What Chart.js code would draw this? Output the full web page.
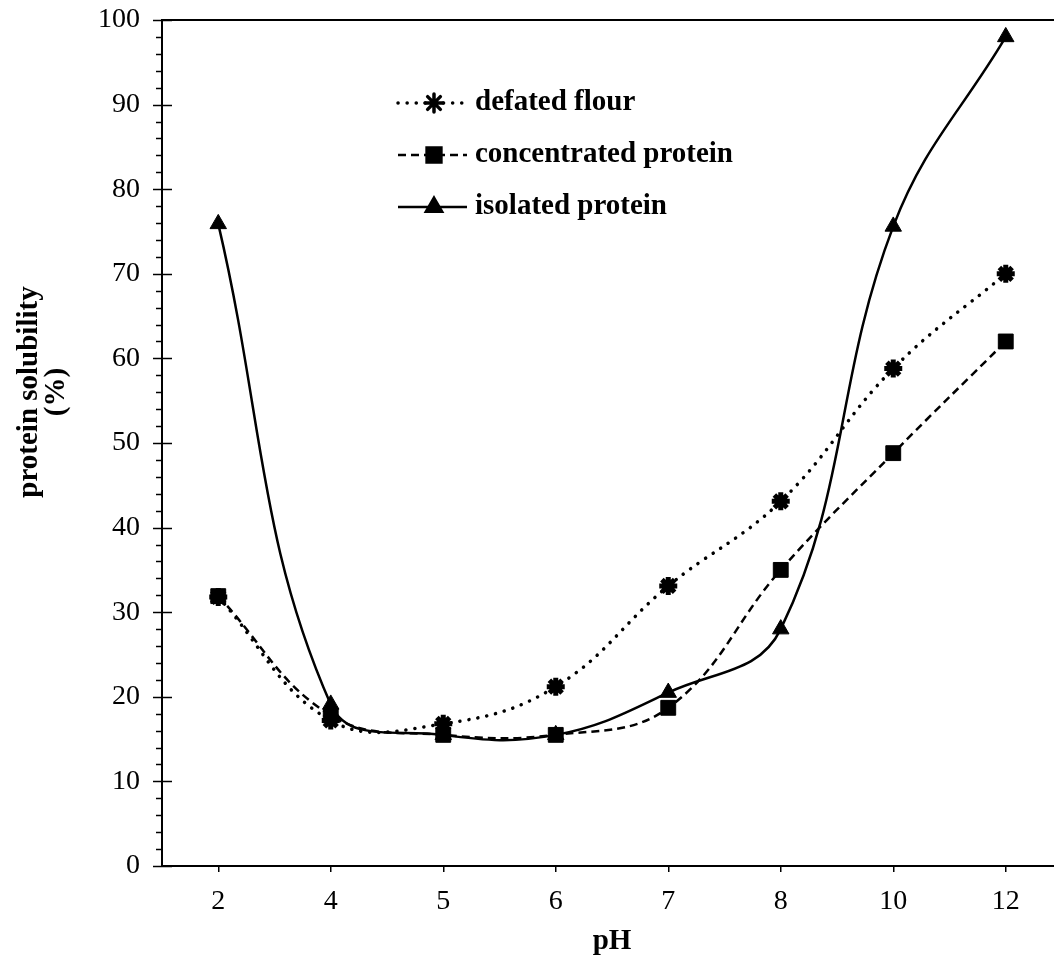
<!DOCTYPE html>
<html>
<head>
<meta charset="utf-8">
<script src="https://cdn.jsdelivr.net/npm/chart.js@4/dist/chart.umd.min.js"></script>
<style>
  html, body { margin: 0; padding: 0; background: #fff; overflow: hidden; }
  canvas { display: block; }
</style>
</head>
<body>
<canvas id="grafica" width="1076" height="959"></canvas>
<script>
// valores
const phLabels = ["2", "4", "5", "6", "7", "8", "10", "12"];
const defatedFlour = [31.8, 17.2, 16.8, 21.2, 33.1, 43.1, 58.8, 70.0];
const concentratedProtein = [31.9, 17.8, 15.5, 15.5, 18.7, 35.0, 48.8, 62.0];
const isolatedProtein = [75.9, 19.1, 15.5, 15.5, 20.5, 28.0, 75.6, 98.0];
const yMin = 0;
const yMax = 100;
const yTitulo = ["protein solubility", "(%)"];

const fuente = "'Liberation Serif', 'Times New Roman', serif";

// marcas del eje y (mayores cruzan el eje, menores solo por fuera)
const ticksPlugin = {
  id: "marcas",
  afterDraw(chart) {
    const ctx = chart.ctx;
    const area = chart.chartArea;
    const y = chart.scales.y;
    ctx.save();
    ctx.strokeStyle = "#000";
    ctx.lineWidth = 1.5;
    for (let v = yMin; v <= yMax; v += 2) {
      const py = Math.round(y.getPixelForValue(v)) + 0.5;
      const major = v % 10 === 0;
      ctx.beginPath();
      ctx.moveTo(area.left - (major ? 9 : 6), py);
      ctx.lineTo(area.left + (major ? 10 : 0), py);
      ctx.stroke();
    }
    // linea superior del marco
    ctx.lineWidth = 2;
    ctx.beginPath();
    ctx.moveTo(area.left, area.top);
    ctx.lineTo(area.right, area.top);
    ctx.stroke();

    // titulo del eje y (dos lineas, girado)
    ctx.fillStyle = "#000";
    ctx.font = "bold 29px " + fuente;
    ctx.textAlign = "center";
    ctx.textBaseline = "middle";
    ctx.translate(30, 392);
    ctx.rotate(-Math.PI / 2);
    yTitulo.forEach((t, i) => ctx.fillText(t, 0, i * 27));
    ctx.restore();
  },
};

// leyenda dentro del area del grafico
const leyendaPlugin = {
  id: "leyenda",
  afterDraw(chart) {
    const ctx = chart.ctx;
    const filas = [103, 155, 207];
    ctx.save();
    chart.data.datasets.forEach((ds, i) => {
      const yy = filas[i];
      ctx.strokeStyle = "#000";
      ctx.lineWidth = ds.borderWidth;
      ctx.lineCap = ds.borderCapStyle || "butt";
      ctx.setLineDash(ds.borderDash || []);
      ctx.beginPath();
      ctx.moveTo(398, yy);
      ctx.lineTo(467, yy);
      ctx.stroke();
      ctx.setLineDash([]);
      Chart.helpers.drawPoint(ctx, {
        pointStyle: ds.pointStyle,
        radius: ds.pointRadius,
        borderWidth: ds.pointBorderWidth,
        rotation: 0,
      }, 434, yy);
      ctx.fillStyle = "#000";
      ctx.font = "bold 29px " + fuente;
      ctx.textBaseline = "middle";
      ctx.fillText(ds.label, 475, yy);
    });
    ctx.restore();
  },
};

const config = {
  type: "line",
  data: {
    labels: phLabels,
    datasets: [
      {
        label: "defated flour",
        data: defatedFlour,
        borderColor: "#000",
        backgroundColor: "#000",
        borderWidth: 3.5,
        borderDash: [0.1, 9],
        borderCapStyle: "round",
        tension: 0.4,
        pointStyle: "star",
        pointRadius: 9,
        pointBorderWidth: 5,
        pointBorderColor: "#000",
        pointBackgroundColor: "#000",
      },
      {
        label: "concentrated protein",
        data: concentratedProtein,
        borderColor: "#000",
        backgroundColor: "#000",
        borderWidth: 2.5,
        borderDash: [8, 5],
        tension: 0.4,
        pointStyle: "rect",
        pointRadius: 10.5,
        pointBorderWidth: 1,
        pointBorderColor: "#000",
        pointBackgroundColor: "#000",
      },
      {
        label: "isolated protein",
        data: isolatedProtein,
        borderColor: "#000",
        backgroundColor: "#000",
        borderWidth: 2.5,
        tension: 0.4,
        pointStyle: "triangle",
        pointRadius: 9.5,
        pointBorderWidth: 1,
        pointBorderColor: "#000",
        pointBackgroundColor: "#000",
      },
    ],
  },
  options: {
    responsive: false,
    animation: false,
    layout: { padding: { top: 20, right: 2, left: 0, bottom: 0 } },
    plugins: {
      legend: { display: false },
      tooltip: { enabled: false },
    },
    scales: {
      x: {
        offset: true,
        afterFit: (scale) => {
          scale.height = 93;
          scale.paddingLeft = 0;
          scale.paddingRight = 0;
        },
        grid: { drawOnChartArea: false, tickLength: 6, color: "#000", lineWidth: 1.5 },
        border: { color: "#000", width: 2 },
        ticks: { color: "#000", padding: 13, font: { family: fuente, size: 28 } },
        title: {
          display: true,
          text: "pH",
          color: "#000",
          padding: { top: 0, bottom: 0 },
          font: { family: fuente, size: 29, weight: "bold" },
        },
      },
      y: {
        min: yMin,
        max: yMax,
        afterFit: (scale) => {
          scale.width = 162;
          scale.paddingTop = 0;
          scale.paddingBottom = 0;
        },
        grid: { drawOnChartArea: false, drawTicks: false },
        border: { color: "#000", width: 2 },
        ticks: {
          stepSize: 2,
          autoSkip: false,
          color: "#000",
          padding: 22,
          font: { family: fuente, size: 28 },
          callback: (v) => (v % 10 === 0 ? v : ""),
        },
      },
    },
  },
  plugins: [ticksPlugin, leyendaPlugin],
};

new Chart(document.getElementById("grafica"), config);
</script>
</body>
</html>
